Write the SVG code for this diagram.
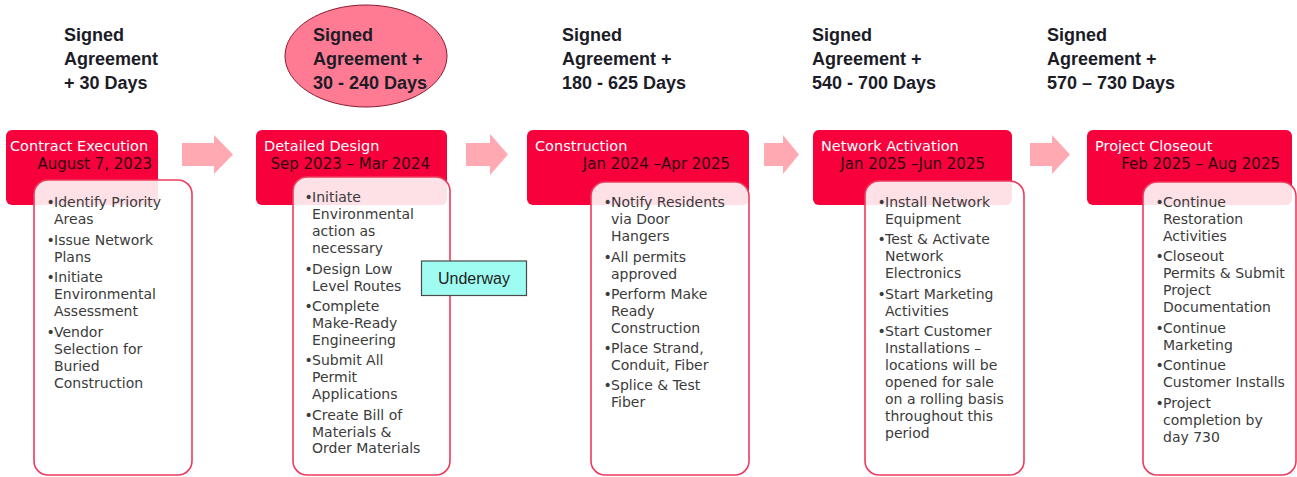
<svg xmlns="http://www.w3.org/2000/svg" width="1297" height="477" viewBox="0 0 1297 477">
<style>
.lbl{font-family:"Liberation Sans",Arial,sans-serif;font-weight:bold;font-size:18px;fill:#1c1c28}
.hdr{fill:#F7003C}
.ttl{font-family:"DejaVu Sans",sans-serif;font-size:14.5px;fill:#ffffff}
.dt{font-family:"DejaVu Sans",sans-serif;font-size:15px;fill:#2e0410;text-anchor:end}
.body{fill:#ffffff;fill-opacity:0.88;stroke:#EE3A5C;stroke-width:1.6}
.txt{font-family:"DejaVu Sans",sans-serif;font-size:14px;fill:#3b3b3b}
.arr{fill:#FFAAB2}
.uw{fill:#9EFDF0;stroke:#4a4a4a;stroke-width:1.2}
.uwt{font-family:"Liberation Sans",Arial,sans-serif;font-size:16px;fill:#222;text-anchor:middle}
</style>
<rect width="1297" height="477" fill="#ffffff"/>
<g id="connectors">
<path class="arr" d="M182,143 H214 V135 L233,154.5 L214,174 V166 H182 Z"/>
<path class="arr" d="M466,143 H490 V134 L508,154.5 L490,175 V166 H466 Z"/>
<path class="arr" d="M764,143 H783 V135 L799,154.5 L783,174 V166 H764 Z"/>
<path class="arr" d="M1030,143 H1052 V135 L1070,154.5 L1052,174 V166 H1030 Z"/>
</g>
<g id="phase1">
<text class="lbl"><tspan x="64" y="41">Signed</tspan><tspan x="64" y="65">Agreement</tspan><tspan x="64" y="89">+ 30 Days</tspan></text>
<rect class="hdr" x="6" y="130" width="152" height="75" rx="6"/>
<text class="ttl" x="10" y="150.5">Contract Execution</text>
<text class="dt" x="152" y="169">August 7, 2023</text>
<rect class="body" x="34" y="180" width="158" height="295" rx="14"/>
<text class="txt">
<tspan x="46.5" y="207">•</tspan><tspan x="54">Identify Priority</tspan>
<tspan x="54" y="224">Areas</tspan>
<tspan x="46.5" y="244.5">•</tspan><tspan x="54">Issue Network</tspan>
<tspan x="54" y="261.5">Plans</tspan>
<tspan x="46.5" y="282">•</tspan><tspan x="54">Initiate</tspan>
<tspan x="54" y="299">Environmental</tspan>
<tspan x="54" y="316">Assessment</tspan>
<tspan x="46.5" y="336.5">•</tspan><tspan x="54">Vendor</tspan>
<tspan x="54" y="353.5">Selection for</tspan>
<tspan x="54" y="370.5">Buried</tspan>
<tspan x="54" y="387.5">Construction</tspan>
</text>
</g>
<g id="phase2">
<ellipse cx="366" cy="56" rx="81" ry="51" fill="#FF7B93" stroke="#8B1A30" stroke-width="1"/>
<text class="lbl"><tspan x="313" y="41">Signed</tspan><tspan x="313" y="65">Agreement +</tspan><tspan x="313" y="89">30 - 240 Days</tspan></text>
<rect class="hdr" x="256" y="130" width="191" height="75" rx="6"/>
<text class="ttl" x="264" y="150.5">Detailed Design</text>
<text class="dt" x="430" y="169">Sep 2023 – Mar 2024</text>
<rect class="body" x="293" y="177" width="157" height="298" rx="14"/>
<text class="txt">
<tspan x="304.5" y="202">•</tspan><tspan x="312">Initiate</tspan>
<tspan x="312" y="219">Environmental</tspan>
<tspan x="312" y="236">action as</tspan>
<tspan x="312" y="253">necessary</tspan>
<tspan x="304.5" y="273.5">•</tspan><tspan x="312">Design Low</tspan>
<tspan x="312" y="290.5">Level Routes</tspan>
<tspan x="304.5" y="311">•</tspan><tspan x="312">Complete</tspan>
<tspan x="312" y="328">Make-Ready</tspan>
<tspan x="312" y="345">Engineering</tspan>
<tspan x="304.5" y="365">•</tspan><tspan x="312">Submit All</tspan>
<tspan x="312" y="382">Permit</tspan>
<tspan x="312" y="399">Applications</tspan>
<tspan x="304.5" y="419.5">•</tspan><tspan x="312">Create Bill of</tspan>
<tspan x="312" y="436.5">Materials &amp;</tspan>
<tspan x="312" y="453">Order Materials</tspan>
</text>
</g>
<g id="underway">
<rect class="uw" x="421.5" y="261" width="105" height="34.5"/>
<text class="uwt" x="474" y="284">Underway</text>
</g>
<g id="phase3">
<text class="lbl"><tspan x="562" y="41">Signed</tspan><tspan x="562" y="65">Agreement +</tspan><tspan x="562" y="89">180 - 625 Days</tspan></text>
<rect class="hdr" x="527" y="130" width="222" height="75" rx="6"/>
<text class="ttl" x="535" y="150.5">Construction</text>
<text class="dt" x="730" y="169">Jan 2024 –Apr 2025</text>
<rect class="body" x="591" y="182" width="158" height="293" rx="14"/>
<text class="txt">
<tspan x="603.5" y="207">•</tspan><tspan x="611">Notify Residents</tspan>
<tspan x="611" y="224">via Door</tspan>
<tspan x="611" y="241">Hangers</tspan>
<tspan x="603.5" y="261.5">•</tspan><tspan x="611">All permits</tspan>
<tspan x="611" y="278.5">approved</tspan>
<tspan x="603.5" y="299">•</tspan><tspan x="611">Perform Make</tspan>
<tspan x="611" y="316">Ready</tspan>
<tspan x="611" y="333">Construction</tspan>
<tspan x="603.5" y="353">•</tspan><tspan x="611">Place Strand,</tspan>
<tspan x="611" y="370">Conduit, Fiber</tspan>
<tspan x="603.5" y="390">•</tspan><tspan x="611">Splice &amp; Test</tspan>
<tspan x="611" y="407">Fiber</tspan>
</text>
</g>
<g id="phase4">
<text class="lbl"><tspan x="812" y="41">Signed</tspan><tspan x="812" y="65">Agreement +</tspan><tspan x="812" y="89">540 - 700 Days</tspan></text>
<rect class="hdr" x="813" y="130" width="199" height="75" rx="6"/>
<text class="ttl" x="821" y="150.5">Network Activation</text>
<text class="dt" x="985" y="169">Jan 2025 –Jun 2025</text>
<rect class="body" x="865" y="181" width="159" height="294" rx="14"/>
<text class="txt">
<tspan x="877.5" y="207">•</tspan><tspan x="885">Install Network</tspan>
<tspan x="885" y="224">Equipment</tspan>
<tspan x="877.5" y="244">•</tspan><tspan x="885">Test &amp; Activate</tspan>
<tspan x="885" y="261">Network</tspan>
<tspan x="885" y="278">Electronics</tspan>
<tspan x="877.5" y="298.5">•</tspan><tspan x="885">Start Marketing</tspan>
<tspan x="885" y="315.5">Activities</tspan>
<tspan x="877.5" y="336">•</tspan><tspan x="885">Start Customer</tspan>
<tspan x="885" y="353">Installations –</tspan>
<tspan x="885" y="370">locations will be</tspan>
<tspan x="885" y="387">opened for sale</tspan>
<tspan x="885" y="404">on a rolling basis</tspan>
<tspan x="885" y="421">throughout this</tspan>
<tspan x="885" y="438">period</tspan>
</text>
</g>
<g id="phase5">
<text class="lbl"><tspan x="1047" y="41">Signed</tspan><tspan x="1047" y="65">Agreement +</tspan><tspan x="1047" y="89">570 – 730 Days</tspan></text>
<rect class="hdr" x="1087" y="130" width="205" height="75" rx="6"/>
<text class="ttl" x="1095" y="150.5">Project Closeout</text>
<text class="dt" x="1280" y="169">Feb 2025 – Aug 2025</text>
<rect class="body" x="1143" y="182" width="153" height="293" rx="14"/>
<text class="txt">
<tspan x="1155.5" y="207">•</tspan><tspan x="1163">Continue</tspan>
<tspan x="1163" y="224">Restoration</tspan>
<tspan x="1163" y="241">Activities</tspan>
<tspan x="1155.5" y="261">•</tspan><tspan x="1163">Closeout</tspan>
<tspan x="1163" y="278">Permits &amp; Submit</tspan>
<tspan x="1163" y="295">Project</tspan>
<tspan x="1163" y="312">Documentation</tspan>
<tspan x="1155.5" y="332.5">•</tspan><tspan x="1163">Continue</tspan>
<tspan x="1163" y="349.5">Marketing</tspan>
<tspan x="1155.5" y="370">•</tspan><tspan x="1163">Continue</tspan>
<tspan x="1163" y="387">Customer Installs</tspan>
<tspan x="1155.5" y="407.5">•</tspan><tspan x="1163">Project</tspan>
<tspan x="1163" y="424.5">completion by</tspan>
<tspan x="1163" y="441.5">day 730</tspan>
</text>
</g>
</svg>
